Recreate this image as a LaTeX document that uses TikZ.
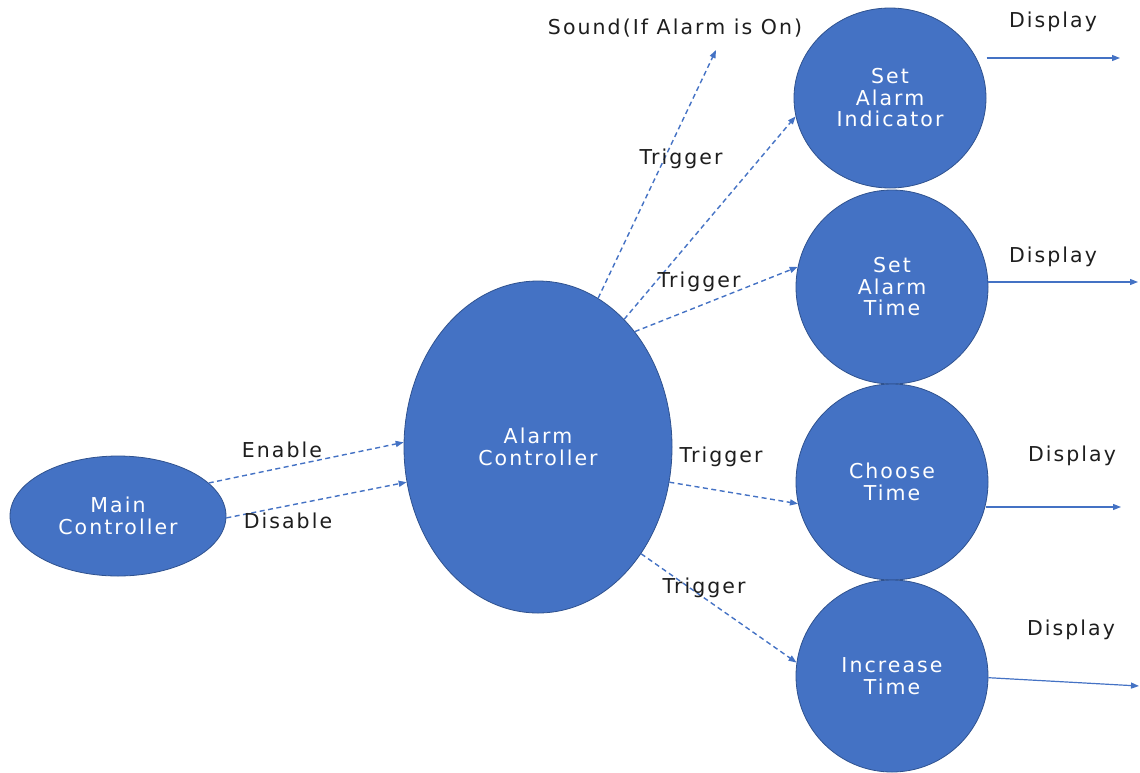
\documentclass[tikz,border=0pt]{standalone}
\usepackage{fontspec}
\setmainfont{DejaVu Sans}[LetterSpace=10]
\usetikzlibrary{shapes.geometric,arrows.meta}
\definecolor{bluefill}{HTML}{4472C4}
\definecolor{blueedge}{HTML}{2F528F}
\definecolor{linkblue}{HTML}{4472C4}
\definecolor{txt}{HTML}{1E1E1E}
\begin{document}
\begin{tikzpicture}[x=1pt,y=-1pt,
  proc/.style={ellipse,fill=bluefill,draw=blueedge,line width=0.8pt,inner sep=0pt,
    text=white,align=center,font=\fontsize{20.5}{21.5}\selectfont},
  lbl/.style={text=txt,inner sep=0pt,font=\fontsize{20.5}{21.5}\selectfont},
  trig/.style={draw=linkblue,line width=1.4pt,dash pattern=on 5pt off 3.5pt,
    -{Triangle[length=8pt,width=6pt]}},
  disp/.style={draw=linkblue,line width=1.2pt,-{Triangle[length=8pt,width=6pt]}}]
\useasboundingbox (0,0) rectangle (1140,772);

% state bubbles
\node[proc,minimum width=216pt,minimum height=120pt] (mc) at (118,516) {Main\\Controller};
\node[proc,minimum width=268pt,minimum height=332pt] (ac) at (538,447) {Alarm\\Controller};
\node[proc,minimum width=192pt,minimum height=180pt] (sai) at (890,98) {Set\\Alarm\\Indicator};
\node[proc,minimum width=192pt,minimum height=194pt] (sat) at (892,287) {Set\\Alarm\\Time};
\node[proc,minimum width=192pt,minimum height=196pt] (ct) at (892,482) {Choose\\Time};
\node[proc,minimum width=192pt,minimum height=192pt] (it) at (892,676) {Increase\\Time};

% free ends of the outgoing arrows
\coordinate (snd) at (716,50);
\coordinate (d1) at (1120,58);
\coordinate (d2) at (1138,282);
\coordinate (d3) at (1121,507);
\coordinate (d4) at (1139,686);

% enable / disable
\draw[trig] (mc.20.7) -- (ac.178.7);
\draw[trig] (mc.-1.6) -- (ac.195.7);
\node[lbl] (en) at (282,450) {Enable};
\node[lbl] (dis) at (288,521) {Disable};

% triggers from the alarm controller
\draw[trig] (ac.68) -- (snd);
\node[lbl] (sl) at (675,28) {Sound(If Alarm is On)};
\draw[trig] (ac.56.3) -- (sai.191.5);
\draw[trig] (ac.50.6) -- (sat.168.3);
\draw[trig] (ac.-15) -- (ct.193.8);
\draw[trig] (ac.-46.5) -- (it.172.4);
\node[lbl] (t1) at (681,159) {Trigger};
\node[lbl] (t2) at (699,282) {Trigger};
\node[lbl] (t3) at (721,457) {Trigger};
\node[lbl] (t4) at (704,588) {Trigger};

% display outputs
\draw[disp,shorten <=8pt] (sai.22.6 |- d1) -- (d1);
\draw[disp] (sat.3 |- d2) -- (d2);
\draw[disp] (ct.-14.6 |- d3) -- (d3);
\draw[disp] (it.-1.8) -- (d4);
\node[lbl] (o1) at (1053,22) {Display};
\node[lbl] (o2) at (1053,257) {Display};
\node[lbl] (o3) at (1072,456) {Display};
\node[lbl] (o4) at (1071,630) {Display};
\end{tikzpicture}
\end{document}
